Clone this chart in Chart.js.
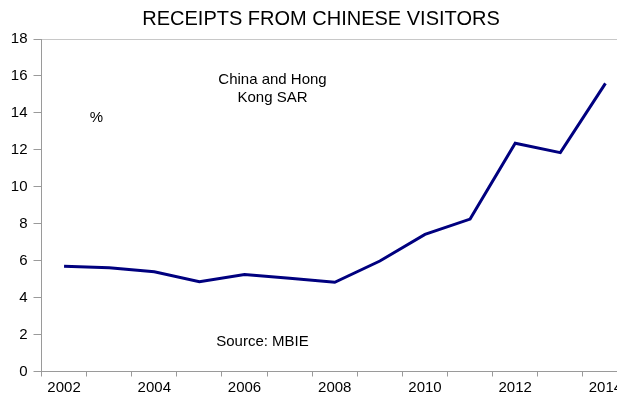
<!DOCTYPE html>
<html>
<head>
<meta charset="utf-8">
<script src="https://cdn.jsdelivr.net/npm/chart.js@4/dist/chart.umd.min.js"></script>
<style>
  html, body { margin: 0; padding: 0; background: #fff; overflow: hidden; }
  #wrap { width: 617px; height: 394px; overflow: hidden; }
</style>
</head>
<body>
<div id="wrap"><canvas id="grafico" width="640" height="394"></canvas></div>
<script>
// years on the x axis, only even ones get a label
const anios = ["2002", "2003", "2004", "2005", "2006", "2007", "2008", "2009", "2010", "2011", "2012", "2013", "2014"];
// share of receipts, China and Hong Kong SAR (%)
const valores = [5.7, 5.62, 5.4, 4.86, 5.25, 5.05, 4.83, 5.98, 7.42, 8.25, 12.36, 11.85, 15.6];
const ticksY = [0, 2, 4, 6, 8, 10, 12, 14, 16, 18];

const fuente = "'Liberation Sans', Arial, sans-serif";
const gris = "#9a9a9a";

const textos = {
  id: "textos",
  afterDraw(chart) {
    const c = chart.ctx;
    const area = chart.chartArea;
    c.save();
    c.fillStyle = "#000";
    c.textAlign = "center";
    c.textBaseline = "middle";
    c.font = "20px " + fuente;
    c.fillText("RECEIPTS FROM CHINESE VISITORS", 321, 19);
    c.font = "15px " + fuente;
    c.fillText("China and Hong", area.left + 231, 80);
    c.fillText("Kong SAR", area.left + 231, 98);
    c.fillText("%", area.left + 55, 118);
    c.fillText("Source: MBIE", area.left + 221, 342);
    c.restore();
  }
};

new Chart(document.getElementById("grafico"), {
  type: "line",
  data: {
    labels: anios,
    datasets: [{
      data: valores,
      borderColor: "#00007f",
      borderWidth: 3,
      pointRadius: 0,
      tension: 0,
      fill: false
    }]
  },
  options: {
    responsive: false,
    animation: false,
    layout: { padding: { top: 39, right: 12, left: 0, bottom: 0 } },
    plugins: {
      legend: { display: false },
      title: { display: false },
      tooltip: { enabled: false }
    },
    scales: {
      x: {
        type: "category",
        offset: true,
        grid: {
          offset: true,
          drawOnChartArea: false,
          tickLength: 5,
          color: gris,
          tickColor: gris
        },
        border: { color: gris },
        ticks: {
          autoSkip: false,
          maxRotation: 0,
          color: "#000",
          padding: 2,
          font: { family: fuente, size: 15 },
          callback: (v, i) => (i % 2 === 0 ? anios[i] : "")
        },
        afterFit(s) { s.height = 22.5; }
      },
      y: {
        min: 0,
        max: 18,
        afterBuildTicks(s) { s.ticks = ticksY.map(v => ({ value: v })); },
        grid: {
          color: ctx => (ctx.tick && ctx.tick.value === 18 ? "#c8c8c8" : "rgba(0,0,0,0)"),
          tickColor: gris,
          tickLength: 8
        },
        border: { color: gris },
        ticks: {
          color: "#000",
          padding: 6,
          font: { family: fuente, size: 15 }
        },
        afterFit(s) { s.width = 41.5; }
      }
    }
  },
  plugins: [textos]
});
</script>
</body>
</html>
